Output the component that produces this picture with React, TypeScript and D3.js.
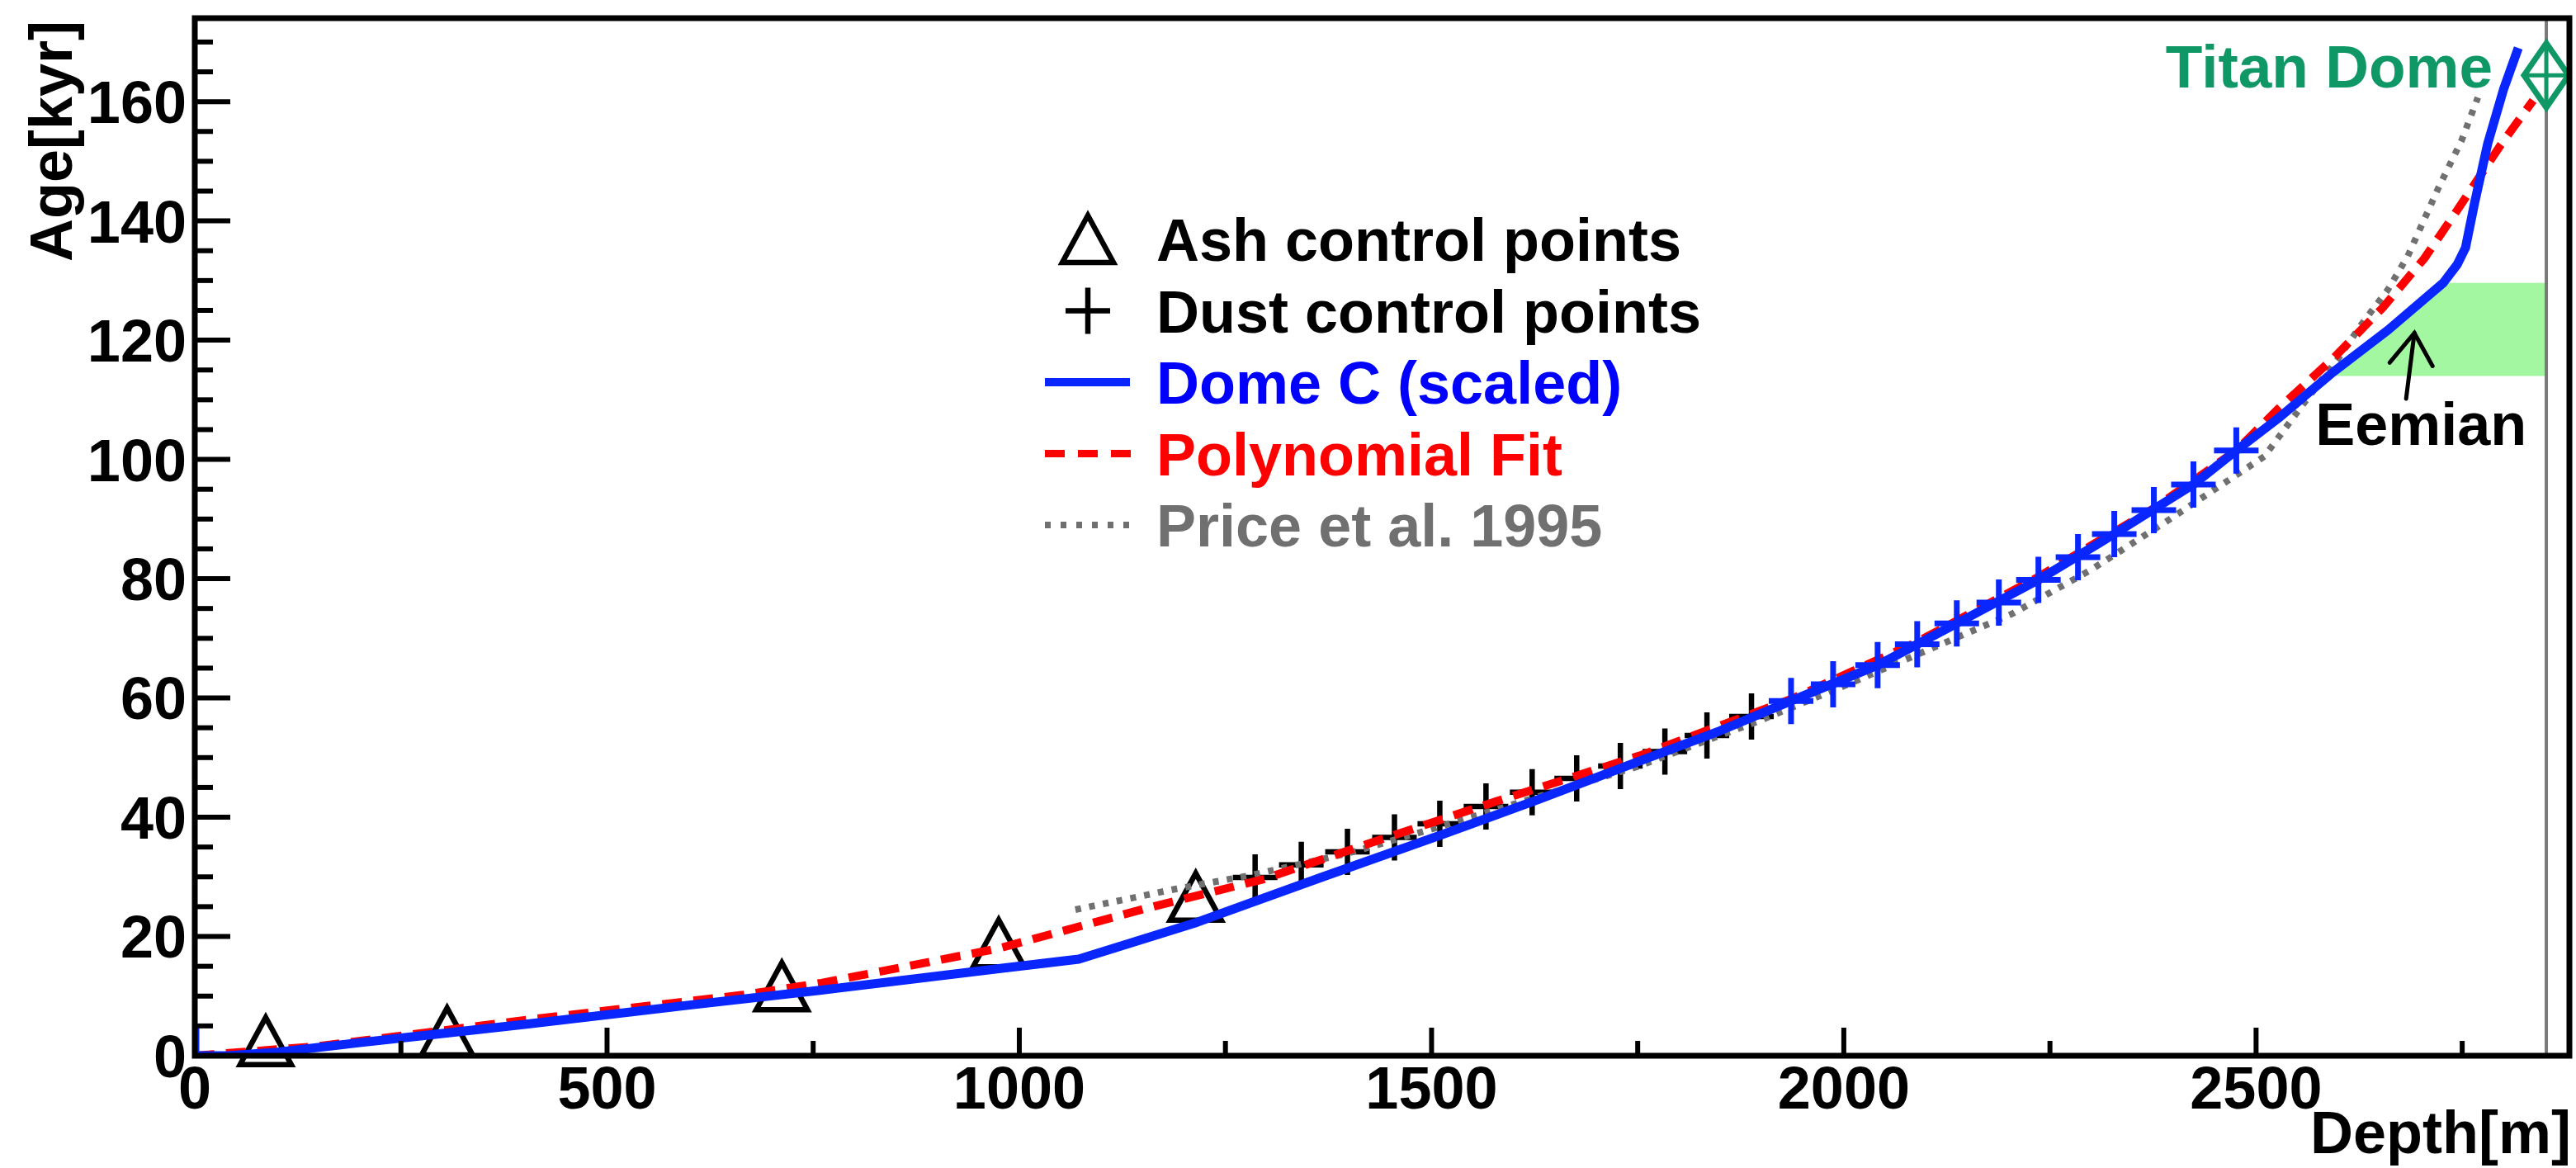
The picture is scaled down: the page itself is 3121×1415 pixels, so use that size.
import React from 'react';
import * as d3 from 'd3';

// depth [m], age [kyr]
const ashPoints: [number, number][] = [
  [86, 2.4], [306, 4.0], [712, 11.6], [975, 18.8], [1214, 26.6],
];

const dustPoints: [number, number][] = [
  [1286, 29.9], [1342, 32.0], [1398, 34.2], [1455, 36.6], [1510, 38.9], [1566, 41.8],
  [1622, 44.2], [1676, 46.5], [1729, 48.6], [1783, 51.0], [1834, 53.7], [1888, 56.9],
];

const dustPointsDeep: [number, number][] = [
  [1936, 59.5], [1987, 62.3], [2041, 65.5], [2089, 69.0], [2137, 72.5], [2188, 76.0],
  [2236, 79.8], [2284, 83.6], [2328, 87.5], [2376, 91.5], [2424, 95.8], [2476, 101.5],
];

const domeC: [number, number][] = [
  [0, 5], [0, 0], [40, 0], [100, 0.6], [200, 2.2], [402, 5.3], [600, 8.5], [760, 11.0],
  [975, 14.6], [1072, 16.2], [1216, 22.4], [1366, 29.9], [1507, 36.8], [1630, 43.0],
  [1752, 49.4], [1850, 54.5], [1936, 59.5], [2041, 65.5], [2137, 72.5], [2236, 79.8],
  [2328, 87.5], [2424, 95.8], [2476, 101.5], [2527, 106.9], [2594, 114.7], [2660, 121.7],
  [2727, 129.6], [2744, 132.7], [2754, 135.5], [2765, 143], [2781, 153], [2800, 162],
  [2818, 169],
];

const polyFit: [number, number][] = [
  [0, 0], [150, 1.6], [402, 6.0], [665, 10.2], [760, 12.2], [975, 18.0], [1156, 24.8],
  [1296, 29.6], [1437, 36.2], [1577, 42.6], [1752, 50.3], [1936, 59.8], [2089, 69.4],
  [2236, 80.3], [2376, 91.8], [2476, 101.5], [2527, 108.5], [2594, 117.0], [2654, 125.5],
  [2704, 133.7], [2741, 141.2], [2797, 152.8], [2836, 160.2],
];

const price1995: [number, number][] = [
  [1068, 24.5], [1191, 28.0], [1282, 30.3], [1400, 34.0], [1500, 38.0], [1600, 42.2],
  [1750, 48.5], [1900, 56.3], [2000, 62.0], [2108, 68.4], [2204, 74.1], [2300, 81.5],
  [2389, 89.4], [2510, 100.5], [2560, 109.8], [2600, 117.0], [2627, 122.5], [2660, 128.5],
  [2684, 134.1], [2721, 145.5], [2749, 153.4], [2769, 160.7],
];

const eemianBand = [114, 129.6];
const bedrockDepth = 2852;
const titanDome: [number, number] = [2852, 164.4];
const eemianArrow: [number, number][] = [[2682, 110.2], [2692, 121.2]];
const eemianLabel: [number, number] = [2700, 102.5];

const xTicks = [0, 500, 1000, 1500, 2000, 2500];
const xMinorTicks = [250, 750, 1250, 1750, 2250, 2750];
const yTicks = [0, 20, 40, 60, 80, 100, 120, 140, 160];
const yMinorTicks = d3.range(5, 175, 5).filter(v => v % 20 !== 0);

const legendItems = [
  { label: 'Ash control points', color: '#000', kind: 'triangle' },
  { label: 'Dust control points', color: '#000', kind: 'cross' },
  { label: 'Dome C (scaled)', color: '#0000ff', kind: 'solid' },
  { label: 'Polynomial Fit', color: '#ff0000', kind: 'dashed' },
  { label: 'Price et al. 1995', color: '#707070', kind: 'dotted' },
];

const W = 3121;
const H = 1415;
const margin = { top: 22, right: 8, bottom: 136, left: 236 };
const font = 'Liberation Sans, Arial, Helvetica, sans-serif';
const green = '#0f9866';
const blue = '#0a26ff';

const trianglePath = (cx: number, cy: number) =>
  `M${cx},${cy - 29}L${cx + 31},${cy + 28}L${cx - 31},${cy + 28}Z`;
const crossPath = (cx: number, cy: number) =>
  `M${cx - 27},${cy}H${cx + 27}M${cx},${cy - 28}V${cy + 28}`;

export default function App() {
  const x = d3.scaleLinear().domain([0, 2880]).range([margin.left, W - margin.right]);
  const y = d3.scaleLinear().domain([0, 174]).range([H - margin.bottom, margin.top]);

  const line = d3.line<[number, number]>().x(d => x(d[0])).y(d => y(d[1]));

  // band fill: region right of the Dome C curve, clipped to the Eemian ages
  const deep = domeC.filter(d => d[0] >= 2400);
  const bandPoly: [number, number][] = [
    ...deep,
    [bedrockDepth, deep[deep.length - 1][1]],
    [bedrockDepth, deep[0][1]],
  ];

  const [x0, x1] = x.range();
  const [yb, yt] = y.range();
  const [tx, ty] = [x(titanDome[0]), y(titanDome[1])];

  return (
    <svg width={W} height={H} style={{ position: 'absolute', left: 0, top: 0, background: '#fff' }}
      fontFamily={font} fontWeight="bold">
      <defs>
        <clipPath id="band">
          <rect x={x(0)} y={y(eemianBand[1])} width={x(bedrockDepth) - x(0)}
            height={y(eemianBand[0]) - y(eemianBand[1])} />
        </clipPath>
        <clipPath id="plot">
          <rect x={x0} y={yt} width={x1 - x0} height={yb - yt} />
        </clipPath>
      </defs>

      <path d={line(bandPoly) + 'Z'} fill="#a2f7a0" clipPath="url(#band)" />

      <line x1={x(bedrockDepth)} x2={x(bedrockDepth)} y1={yt} y2={yb} stroke="#7a7a7a" strokeWidth={4} />

      <g fill="none" stroke="#000" strokeWidth={6.5}>
        {ashPoints.map((d, i) => <path key={i} d={trianglePath(x(d[0]), y(d[1]))} strokeLinejoin="miter" />)}
        {dustPoints.map((d, i) => <path key={i} d={crossPath(x(d[0]), y(d[1]))} />)}
      </g>

      <g fill="none" clipPath="url(#plot)">
        <path d={line(price1995)!} stroke="#707070" strokeWidth={8} strokeDasharray="7 10" />
        <path d={line(polyFit)!} stroke="#ff0000" strokeWidth={10} strokeDasharray="24 14" />
        <path d={line(domeC)!} stroke={blue} strokeWidth={11} strokeLinejoin="round" />
        {dustPointsDeep.map((d, i) => <path key={i} d={crossPath(x(d[0]), y(d[1]))} stroke={blue} strokeWidth={7} />)}
      </g>

      {/* Titan Dome marker */}
      <g fill="none" stroke={green} strokeWidth={7}>
        <path d={`M${tx},${ty - 39}L${tx + 27},${ty}L${tx},${ty + 39}L${tx - 27},${ty}Z`} />
        <path d={`M${tx - 27},${ty}H${tx + 27}M${tx},${ty - 39}V${ty + 39}`} strokeWidth={5} />
      </g>
      <text x={tx - 65} y={106} textAnchor="end" fontSize={73} fill={green}>Titan Dome</text>

      {/* Eemian annotation */}
      <g stroke="#000" strokeWidth={5} fill="none" strokeLinecap="round">
        <line x1={x(eemianArrow[0][0])} y1={y(eemianArrow[0][1])} x2={x(eemianArrow[1][0])} y2={y(eemianArrow[1][1])} />
        <path d={`M${x(eemianArrow[1][0]) - 30},${y(eemianArrow[1][1]) + 36}L${x(eemianArrow[1][0])},${y(eemianArrow[1][1])}L${x(eemianArrow[1][0]) + 22},${y(eemianArrow[1][1]) + 40}`} />
      </g>
      <text x={x(eemianLabel[0])} y={y(eemianLabel[1])} textAnchor="middle" fontSize={72} fill="#000">Eemian</text>

      {/* frame and ticks */}
      <rect x={x0} y={yt} width={x1 - x0} height={yb - yt} fill="none" stroke="#000" strokeWidth={7} />
      <g stroke="#000" strokeWidth={6}>
        {yTicks.map(t => <line key={t} x1={x0} x2={x0 + 43} y1={y(t)} y2={y(t)} />)}
        {yMinorTicks.map(t => <line key={t} x1={x0} x2={x0 + 22} y1={y(t)} y2={y(t)} />)}
        {xTicks.map(t => <line key={t} x1={x(t)} x2={x(t)} y1={yb} y2={yb - 34} />)}
        {xMinorTicks.map(t => <line key={t} x1={x(t)} x2={x(t)} y1={yb} y2={yb - 18} />)}
      </g>
      <g fontSize={72} fill="#000">
        {yTicks.map(t => <text key={t} x={x0 - 10} y={y(t)} dy="0.36em" textAnchor="end">{t}</text>)}
        {xTicks.map(t => <text key={t} x={x(t)} y={yb + 64} textAnchor="middle">{t}</text>)}
      </g>
      <text x={W - 6} y={1397} textAnchor="end" fontSize={72}>Depth[m]</text>
      <text transform="translate(87,25) rotate(-90)" textAnchor="end" fontSize={72}>Age[kyr]</text>

      {/* legend */}
      <g fontSize={72}>
        {legendItems.map((it, i) => {
          const cy = 290 + i * 86.5;
          return (
            <g key={it.label}>
              {it.kind === 'triangle' && <path d={trianglePath(1318, cy)} fill="none" stroke="#000" strokeWidth={6.5} />}
              {it.kind === 'cross' && <path d={crossPath(1318, cy)} fill="none" stroke="#000" strokeWidth={6.5} />}
              {it.kind === 'solid' && <line x1={1266} x2={1369} y1={cy} y2={cy} stroke={blue} strokeWidth={10} />}
              {it.kind === 'dashed' && <line x1={1266} x2={1370} y1={cy} y2={cy} stroke="#ff0000" strokeWidth={9} strokeDasharray="24 16" />}
              {it.kind === 'dotted' && <line x1={1266} x2={1370} y1={cy} y2={cy} stroke="#707070" strokeWidth={8} strokeDasharray="7 12" />}
              <text x={1401} y={cy + 26} fill={it.color}>{it.label}</text>
            </g>
          );
        })}
      </g>
    </svg>
  );
}
